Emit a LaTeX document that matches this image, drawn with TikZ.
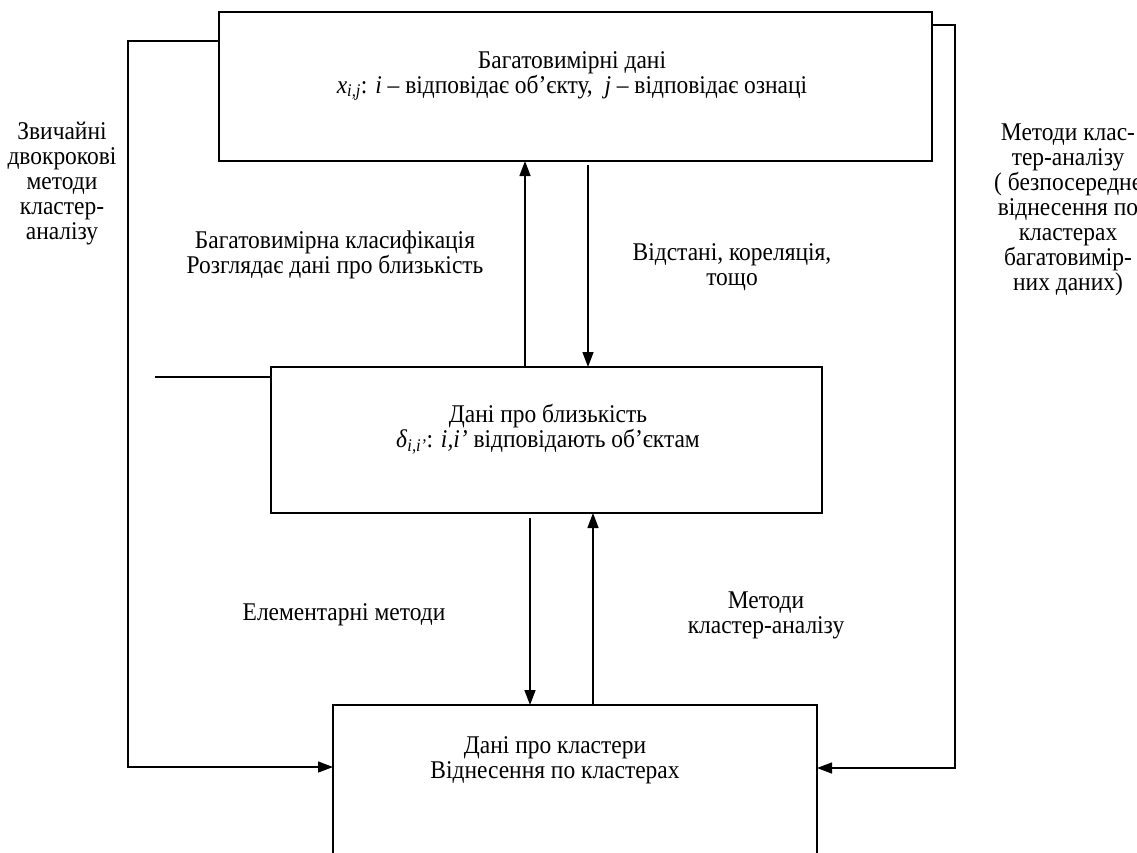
\documentclass[tikz,border=0pt]{standalone}
\usepackage{fontspec}
\setmainfont{Liberation Serif}[FakeStretch=0.92]
\usetikzlibrary{arrows.meta,calc}
\begin{document}
\begin{tikzpicture}[x=1pt,y=-1pt,
  box/.style={draw,line width=1.8pt,inner sep=0pt,outer sep=0pt},
  lbl/.style={font=\fontsize{25.5}{25}\selectfont,align=center,inner sep=0pt},
  ln/.style={line width=1.4pt},
  arr/.style={line width=1.4pt,-{Triangle[length=15pt,width=11pt]}}]
\clip (0,0) rectangle (1137,852);
\fill[white] (0,0) rectangle (1137,852);
% boxes
\node[box,minimum width=713pt,minimum height=149pt] (top) at (575.5,86.5) {};
\node[box,minimum width=551pt,minimum height=146pt] (mid) at (546.5,440) {};
\node[box,minimum width=484pt,minimum height=200pt] (bot) at (575,805) {};
% box texts
\node[lbl] (ttop) at (572,76) {Багатовимірні дані\\\textit{x}\textsubscript{\textit{i,j}}: \textit{i} – відповідає об’єкту,\ \ \textit{j} – відповідає ознаці};
\node[lbl] (tmid) at (548,429.5) {Дані про близькість\\\textit{δ}\textsubscript{\textit{i,i’}}: \textit{i,i’} відповідають об’єктам};
\node[lbl] (tbot) at (555,760) {Дані про кластери\\Віднесення по кластерах};
% side labels
\node[lbl] (lleft) at (62,184) {Звичайні\\двокрокові\\методи\\кластер-\\аналізу};
\node[lbl] (lright) at (1068,209.5) {Методи клас-\\тер-аналізу\\( безпосереднє\\віднесення по\\кластерах\\багатовимір-\\них даних)};
\node[lbl] (lclass) at (335,255) {Багатовимірна класифікація\\Розглядає дані про близькість};
\node[lbl] (ldist) at (732,267.5) {Відстані, кореляція,\\тощо};
\node[lbl] (lelem) at (344,614.5) {Елементарні методи};
\node[lbl] (lmeth) at (766,615) {Методи\\кластер-аналізу};
% coordinates
\coordinate (xa) at (525,0);
\coordinate (xb) at (588,0);
\coordinate (xc) at (530,0);
\coordinate (xd) at (593,0);
\coordinate (lt) at (128,41);
\coordinate (lb) at (128,767);
\coordinate (rt) at (955,25);
\coordinate (rb) at (955,768);
\coordinate (dl) at (155,377);
% connectors
\draw[arr] (mid.north -| xa) -- (top.south -| xa);
\draw[arr,shorten <=4pt] (top.south -| xb) -- (mid.north -| xb);
\draw[arr,shorten <=5pt] (mid.south -| xc) -- (bot.north -| xc);
\draw[arr] (bot.north -| xd) -- (mid.south -| xd);
\draw[arr] (top.west |- lt) -- (lt) -- (lb) -- (bot.west |- lb);
\draw[arr] (top.east |- rt) -- (rt) -- (rb) -- (bot.east |- rb);
\draw[ln] (dl) -- (mid.west |- dl);
\end{tikzpicture}
\end{document}
